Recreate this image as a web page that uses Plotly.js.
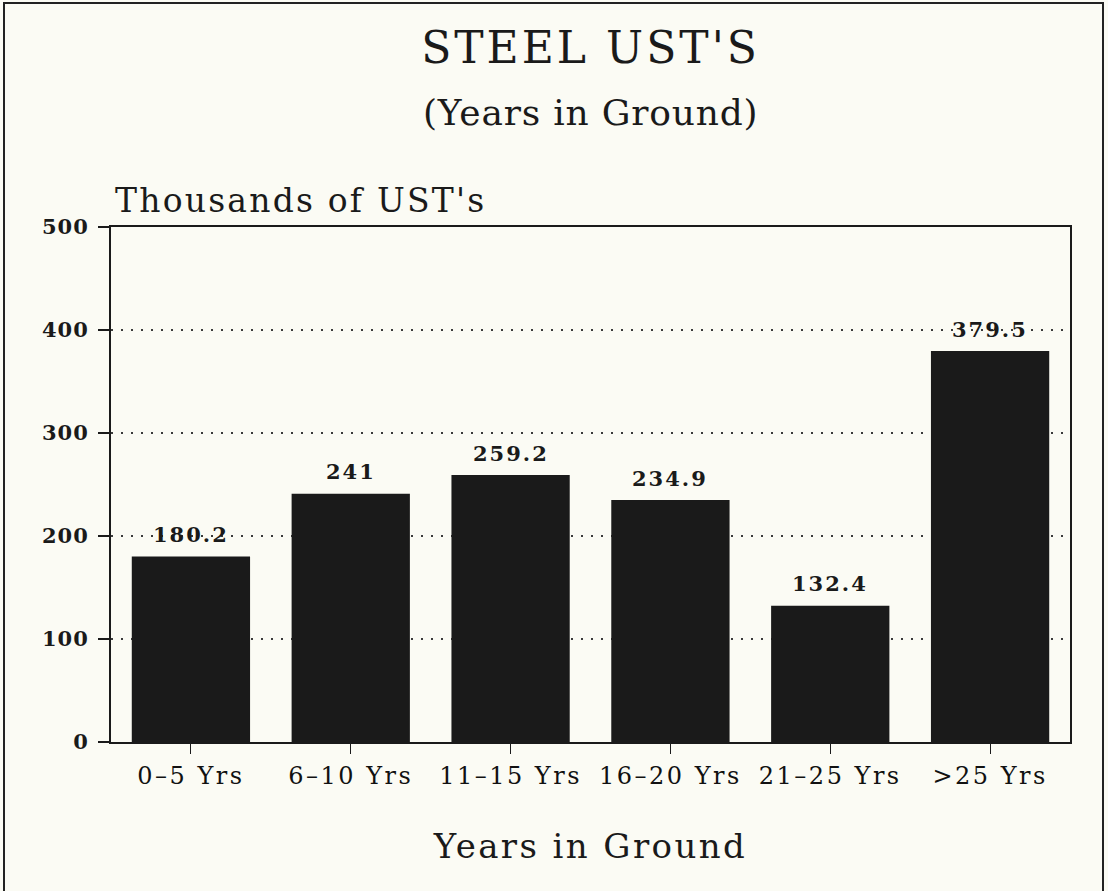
<!DOCTYPE html>
<html>
<head>
<meta charset="utf-8">
<script src="https://cdn.plot.ly/plotly-3.0.1.min.js"></script>
<style>
  html, body { margin: 0; padding: 0; background: #fbfbf4; }
  #chart { width: 1108px; height: 891px; }
</style>
</head>
<body>
<div id="chart"></div>
<script>
const categories = ["0\u20135 Yrs", "6\u201310 Yrs", "11\u201315 Yrs", "16\u201320 Yrs", "21\u201325 Yrs", ">25 Yrs"];
const values = [180.2, 241, 259.2, 234.9, 132.4, 379.5];
const valueLabels = ["180.2", "241", "259.2", "234.9", "132.4", "379.5"];
const yTicks = [0, 100, 200, 300, 400, 500];

const ink = "#1a1a1a";
const serif = "DejaVu Serif, serif";
const spaced = (t, px) => '<span style="letter-spacing:' + px + 'px">' + t + '</span>';

const trace = {
  type: "bar",
  x: categories,
  y: values,
  marker: { color: "#1a1a1a", line: { width: 0 } },
  hoverinfo: "skip"
};

const barAnnotations = categories.map((c, i) => ({
  x: c, y: values[i], xref: "x", yref: "y",
  text: spaced(valueLabels[i], 2), showarrow: false,
  yanchor: "middle", yshift: 22,
  font: { family: serif, size: 21, color: ink, weight: "bold" }
}));

const layout = {
  width: 1108, height: 891,
  margin: { l: 111, r: 38, t: 227, b: 149 },
  paper_bgcolor: "#fbfbf4",
  plot_bgcolor: "#fbfbf4",
  showlegend: false,
  bargap: 0.26,
  title: {
    text: spaced("STEEL UST'S", 3),
    x: 0.5, xref: "paper", xanchor: "center",
    y: 1 - 48 / 891, yref: "container", yanchor: "middle",
    font: { family: serif, size: 44, color: ink }
  },
  xaxis: {
    type: "category",
    range: [-0.5, 5.5],
    tickvals: categories,
    ticktext: categories.map(c => spaced(c, 2.5)),
    showline: true, mirror: true, linecolor: ink, linewidth: 2,
    ticks: "outside", ticklen: 10, tickcolor: ink, tickwidth: 1,
    ticklabelstandoff: 1,
    tickfont: { family: serif, size: 24, color: "#111" },
    showgrid: false, zeroline: false,
    title: { text: spaced("Years in Ground", 2.4), standoff: 45, font: { family: serif, size: 34, color: ink } }
  },
  yaxis: {
    range: [0, 500],
    tickvals: yTicks,
    ticktext: yTicks.map(v => spaced(String(v), 1)),
    showline: true, mirror: true, linecolor: ink, linewidth: 2,
    ticks: "outside", ticklen: 11, tickcolor: ink, tickwidth: 2,
    ticklabelstandoff: 5,
    tickfont: { family: serif, size: 21, color: ink, weight: "bold" },
    showgrid: true, gridcolor: "#3a3a3a", gridwidth: 2, griddash: "2px,8px",
    zeroline: false
  },
  annotations: [
    {
      text: spaced("(Years in Ground)", 0.8), showarrow: false,
      xref: "paper", yref: "paper", x: 0.5, y: (742 - 113) / 515,
      xanchor: "center", yanchor: "middle",
      font: { family: serif, size: 36, color: ink }
    },
    {
      text: spaced("Thousands of UST's", 2.2), showarrow: false,
      xref: "paper", yref: "paper", x: 0.002, y: (742 - 200) / 515,
      xanchor: "left", yanchor: "middle",
      font: { family: serif, size: 33, color: ink }
    }
  ].concat(barAnnotations),
  shapes: [
    {
      type: "rect", xref: "paper", yref: "paper",
      x0: (4 - 111) / 959, x1: (1103 - 111) / 959,
      y0: (742 - 900) / 515, y1: (742 - 3) / 515,
      line: { color: "#222", width: 2 }, fillcolor: "rgba(0,0,0,0)", layer: "above"
    }
  ]
};

Plotly.newPlot("chart", [trace], layout, { displayModeBar: false, staticPlot: true });
</script>
</body>
</html>
